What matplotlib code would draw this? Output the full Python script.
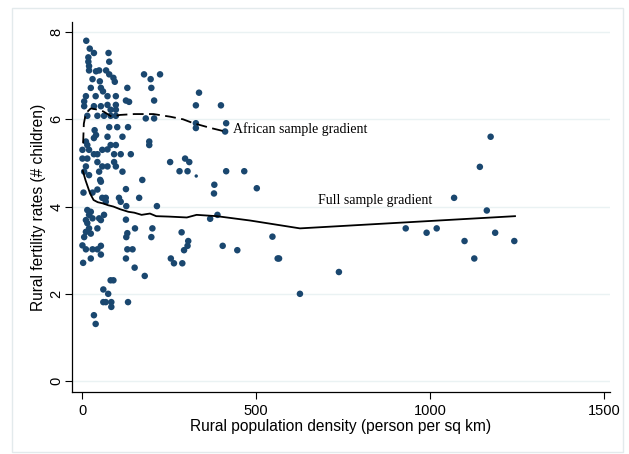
"""
Rural fertility vs rural population density (Stata-style scatter with lowess gradients)
"""

import matplotlib
matplotlib.use("Agg")
import matplotlib.pyplot as plt
from matplotlib.patches import Rectangle

# scatter data: rural density (person per sq km), rural fertility (# children)
density = [12, 22, 34, 76, 18, 18, 78, 20, 20, 49, 40, 69, 178, 224, 197, 30, 78, 90, 94, 51,
           25, 54, 60, 130, 199, 11, 39, 73, 97, 207, 6, 6, 34, 54, 73, 97, 126, 135, 82, 97,
           15, 44, 63, 82, 97, 183, 207, 78, 101, 132,
           36, 40, 34, 73, 116, 193, 193, 11, 15, 1, 20, 34, 44, 58, 73, 82, 97, 92, 111, 140,
           1, 15, 44, 58, 73, 92, 97, 11, 6, 20, 49, 116, 52, 54, 173, 126, 4, 30, 44, 164,
           58, 68, 68, 106, 111, 127, 215, 15, 25, 20, 49, 54, 30, 11, 63, 126, 15, 20, 44, 11,
           130, 152, 202,
           6, 25, 127, 199, 1, 11, 30, 44, 54, 54, 130, 145, 3, 25, 126, 151, 180, 82, 90, 61,
           75, 61, 68, 84, 84, 132, 34, 39,
           336, 327, 399, 327, 327, 414, 411, 253, 296, 308, 280, 303, 414, 466, 380, 379, 502,
           368, 389, 286, 305, 303, 293, 404, 446, 255, 264, 288, 547, 562, 566, 738, 626,
           930, 990, 1019, 1174, 1143, 1069, 1163, 1187, 1099, 1242, 1127]
fertility = [7.8, 7.62, 7.52, 7.52, 7.42, 7.32, 7.32, 7.22, 7.12, 7.12, 7.1, 7.12, 7.03, 7.03, 6.92, 6.92, 7.03, 6.95, 6.86, 6.87,
             6.72, 6.72, 6.64, 6.72, 6.72, 6.53, 6.53, 6.53, 6.53, 6.43, 6.41, 6.3, 6.3, 6.3, 6.33, 6.33, 6.43, 6.4, 6.22, 6.22,
             6.08, 6.08, 6.08, 6.08, 6.08, 6.02, 6.02, 5.82, 5.82, 5.82,
             5.75, 5.64, 5.57, 5.6, 5.6, 5.49, 5.41, 5.49, 5.41, 5.3, 5.3, 5.2, 5.2, 5.3, 5.31, 5.41, 5.41, 5.2, 5.2, 5.2,
             5.1, 5.1, 5.02, 4.92, 4.92, 5.02, 4.92, 4.92, 4.8, 4.72, 4.8, 4.8, 4.61, 4.57, 4.61, 4.4, 4.32, 4.32, 4.39, 4.2,
             4.2, 4.2, 4.11, 4.2, 4.11, 4.01, 4.01, 3.92, 3.88, 3.81, 3.73, 3.69, 3.73, 3.69, 3.81, 3.7, 3.62, 3.5, 3.5, 3.42,
             3.39, 3.5, 3.5,
             3.3, 3.38, 3.3, 3.3, 3.11, 3.02, 3.02, 3.02, 3.1, 2.9, 3.02, 3.02, 2.71, 2.81, 2.81, 2.6, 2.41, 2.31, 2.31, 2.1,
             2.0, 1.81, 1.81, 1.81, 1.7, 1.81, 1.51, 1.31,
             6.61, 6.32, 6.32, 5.91, 5.8, 5.91, 5.72, 5.02, 5.1, 5.02, 4.81, 4.81, 4.81, 4.81, 4.5, 4.3, 4.42,
             3.72, 3.81, 3.41, 3.21, 3.1, 3.0, 3.1, 3.0, 2.81, 2.7, 2.7, 3.31, 2.81, 2.81, 2.5, 2.0,
             3.5, 3.4, 3.5, 5.6, 4.91, 4.2, 3.91, 3.4, 3.21, 3.21, 2.81]

# one observation drawn with a smaller marker
small_density = [328]
small_fertility = [4.7]

# full sample gradient (solid)
full_x = [2, 10, 23, 33, 45, 61, 75, 90, 109, 133, 150, 171, 195, 213, 250, 301, 329, 387, 483, 626, 1244]
full_y = [4.82, 4.6, 4.3, 4.15, 4.1, 4.07, 4.03, 4.0, 3.94, 3.88, 3.86, 3.81, 3.84, 3.78, 3.77, 3.75, 3.81, 3.78, 3.68,
          3.5, 3.78]

# African sample gradient (dashed)
afr_x = [3, 5, 11, 25, 45, 61, 85, 109, 150, 205, 253, 290, 320, 370, 411]
afr_y = [5.45, 5.9, 6.14, 6.25, 6.22, 6.18, 6.06, 6.1, 6.12, 6.12, 6.06, 6.0, 5.91, 5.8, 5.72]

xticks = [0, 500, 1000, 1500]
yticks = [0, 2, 4, 6, 8]

navy = "#1a476f"
grid_col = "#eaf2f3"

plt.rcParams['font.family'] = ['Liberation Sans', 'DejaVu Sans']

fig = plt.figure(figsize=(6.29, 4.54), dpi=100)
fig.patch.set_facecolor("white")
# light outer frame like Stata graph region
fig.patches.append(Rectangle((12 / 629, 2 / 454), 611 / 629, 444 / 454, transform=fig.transFigure,
                             fill=False, edgecolor="#e3eaec", linewidth=1.0))

ax = fig.add_axes([72 / 629, 1 - 392 / 454, 538 / 629, 370 / 454])
ax.set_xlim(-29, 1517)
ax.set_ylim(-0.25, 8.23)

ax.scatter(density, fertility, s=22, color=navy, edgecolors="none", zorder=3)
ax.scatter(small_density, small_fertility, s=6, color=navy, edgecolors="none", zorder=3)

ax.plot(full_x, full_y, color="black", linewidth=1.3, zorder=4)
ax.plot(afr_x, afr_y, color="black", linewidth=1.3, dashes=(6, 3), zorder=4)

ax.text(434, 5.78, "African sample gradient", family="Liberation Serif", fontsize=10,
        va="center", ha="left")
ax.text(678, 4.13, "Full sample gradient", family="Liberation Serif", fontsize=10,
        va="center", ha="left")

ax.set_xticks(xticks)
ax.set_yticks(yticks)
ax.set_yticklabels([str(t) for t in yticks], rotation=90, va="center")
ax.tick_params(axis="both", direction="out", length=5, width=0.8, labelsize=10.5, color="black")
ax.tick_params(axis="y", pad=1)
ax.grid(axis="y", color=grid_col, linewidth=1.0)
ax.set_axisbelow(True)

for side in ["top", "right"]:
    ax.spines[side].set_visible(False)
for side in ["left", "bottom"]:
    ax.spines[side].set_linewidth(0.9)

ax.set_xlabel("Rural population density (person per sq km)", fontsize=11.2, labelpad=1)
ax.set_ylabel("Rural fertility rates (# children)", fontsize=11.2, labelpad=3)

fig.savefig("out.png", dpi=100)
